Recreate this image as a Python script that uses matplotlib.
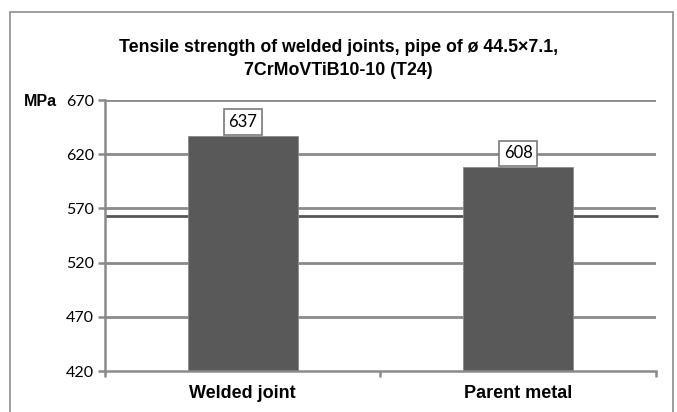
import matplotlib.pyplot as plt
from matplotlib.patches import Rectangle

# data
categories = ['Welded joint', 'Parent metal']
strength = [637, 608]
ref_value = 563
y_ticks = [420, 470, 520, 570, 620, 670]

fig = plt.figure(figsize=(6.77, 4.12), dpi=100)
ax = fig.add_axes([0.155, 0.0995, 0.814, 0.6577])

# outer chart frame (bottom edge runs off the picture)
fig.patches.append(Rectangle((10 / 677, -0.05), 663 / 677, 1 - 12 / 412 + 0.05,
                             transform=fig.transFigure, fill=False,
                             edgecolor='#8c8c8c', linewidth=1.2, zorder=0))

x = range(len(categories))
ax.set_xlim(-0.5, len(categories) - 0.5)
ax.set_ylim(420, 670)

# gridlines and reference line sit behind the bars
for t in y_ticks[1:]:
    ax.axhline(t, color='#8a8a8a', linewidth=2, zorder=1)
ax.plot([-0.5, 1.508], [ref_value, ref_value], color='#555555', linewidth=2,
        zorder=1, clip_on=False, solid_capstyle='butt')

ax.bar(x, strength, width=0.4, color='#595959',
       edgecolor='#8a8a8a', linewidth=0.6, zorder=2)

for xi, v in zip(x, strength):
    ax.annotate(str(v), xy=(xi, v), xytext=(0, 10), textcoords='offset points',
                ha='center', va='center', fontsize=12, family='Lato',
                bbox=dict(boxstyle='square,pad=0.28', facecolor='white',
                          edgecolor='#7a7a7a', linewidth=1.2), zorder=3)

# axes styling
for s in ['top', 'right']:
    ax.spines[s].set_visible(False)
for s in ['left', 'bottom']:
    ax.spines[s].set_color('#8a8a8a')
    ax.spines[s].set_linewidth(1.8)

ax.set_yticks(y_ticks)
ax.set_yticklabels([str(t) for t in y_ticks], fontsize=11.5, family='Lato')
ax.tick_params(axis='y', length=5, width=1.8, color='#8a8a8a', pad=3)

ax.set_xticks([-0.5, 0.5, 1.5], minor=True)
ax.set_xticks(list(x))
ax.set_xticklabels(categories, fontsize=13, fontweight='bold',
                   family='Liberation Sans')
ax.tick_params(axis='x', which='major', length=0, pad=10)
ax.tick_params(axis='x', which='minor', length=4, width=1.8, color='#8a8a8a')

ax.text(24 / 677, 1 - 101 / 412, 'MPa', transform=fig.transFigure,
        fontsize=11.5, fontweight='bold', family='Liberation Sans',
        ha='left', va='center')

fig.text(0.5, 0.857, 'Tensile strength of welded joints, pipe of ø 44.5×7.1,\n7CrMoVTiB10-10 (T24)',
         ha='center', va='center', fontsize=12.8, fontweight='bold',
         family='Liberation Sans', linespacing=1.4)

fig.savefig('out.png', dpi=100, facecolor='white')
